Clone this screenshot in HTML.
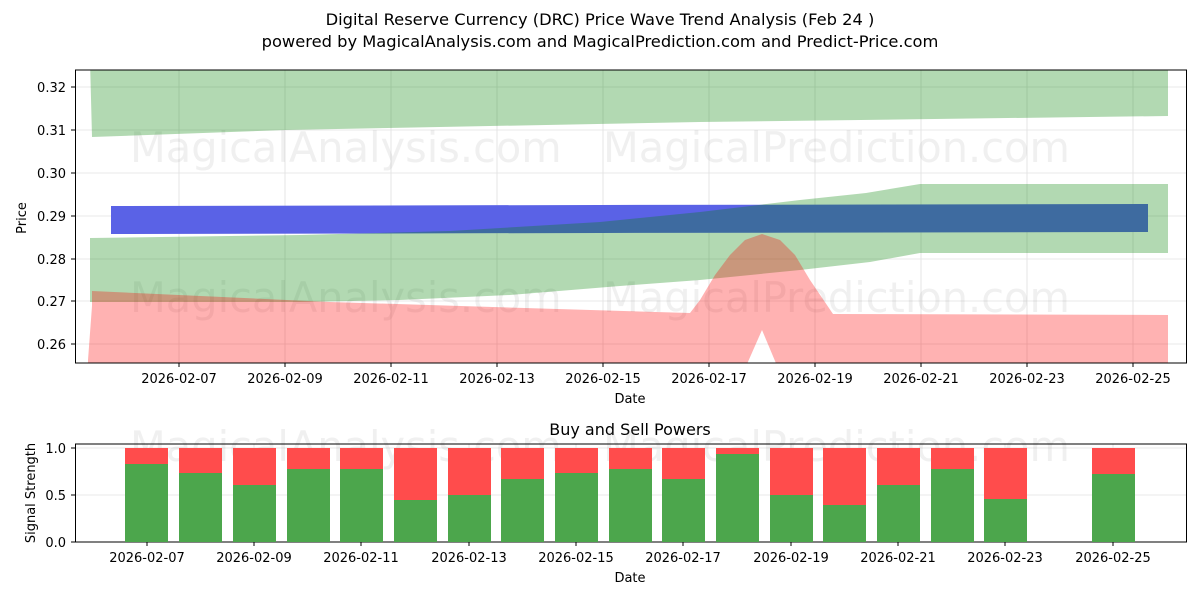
<!DOCTYPE html>
<html><head><meta charset="utf-8"><style>body{margin:0;background:#fff}svg{display:block}text{font-family:"DejaVu Sans","Liberation Sans",sans-serif;fill:#000}</style></head><body>
<svg width="1200" height="600" viewBox="0 0 1200 600" xmlns="http://www.w3.org/2000/svg">
<rect width="1200" height="600" fill="#fff"/>
<text x="600" y="25" font-size="16.3" text-anchor="middle">Digital Reserve Currency (DRC) Price Wave Trend Analysis (Feb 24 )</text>
<text x="600" y="47" font-size="16.3" text-anchor="middle">powered by MagicalAnalysis.com and MagicalPrediction.com and Predict-Price.com</text>
<defs><clipPath id="c1"><rect x="76" y="70" width="1110" height="293"/></clipPath></defs>
<g stroke="#e0e0e0" stroke-width="0.8">
<line x1="179" y1="70" x2="179" y2="363"/><line x1="285" y1="70" x2="285" y2="363"/><line x1="391" y1="70" x2="391" y2="363"/><line x1="497" y1="70" x2="497" y2="363"/><line x1="603" y1="70" x2="603" y2="363"/><line x1="709" y1="70" x2="709" y2="363"/><line x1="815" y1="70" x2="815" y2="363"/><line x1="921" y1="70" x2="921" y2="363"/><line x1="1027" y1="70" x2="1027" y2="363"/><line x1="1133" y1="70" x2="1133" y2="363"/>
<line x1="76" y1="87" x2="1186" y2="87"/><line x1="76" y1="130" x2="1186" y2="130"/><line x1="76" y1="173" x2="1186" y2="173"/><line x1="76" y1="216" x2="1186" y2="216"/><line x1="76" y1="259" x2="1186" y2="259"/><line x1="76" y1="301" x2="1186" y2="301"/><line x1="76" y1="344" x2="1186" y2="344"/>
</g>
<g font-size="41.5">
<text x="130" y="162" style="fill:rgba(128,128,128,0.12)">MagicalAnalysis.com</text>
<text x="603" y="162" style="fill:rgba(128,128,128,0.12)">MagicalPrediction.com</text>
<text x="130" y="312" style="fill:rgba(128,128,128,0.12)">MagicalAnalysis.com</text>
<text x="603" y="312" style="fill:rgba(128,128,128,0.12)">MagicalPrediction.com</text>
</g>
<g clip-path="url(#c1)">
<polygon points="111,206 600,205 1148,204 1148,232 600,233 111,234" fill="#5a62e6"/>
<polygon points="90,60 1168,60 1168,116 700,122 285,130 92,137" fill="rgb(0,128,0)" fill-opacity="0.3"/>
<polygon points="90,238 300,235 450,231 600,222 700,212 800,200 866,193 920,184 1168,184 1168,253 920,253 870,262 800,270 700,280 620,286 510,295 400,300 300,302 90,302" fill="rgb(0,128,0)" fill-opacity="0.3"/>
<polygon points="92,291 330,302 690,313 700,300 715,275 730,255 745,240 762,234 780,240 795,255 810,280 833,314 1168,315 1168,380 783,380 762,330 740,380 88,380 88,360 92,306" fill="rgb(255,0,0)" fill-opacity="0.3"/>
</g>
<rect x="75.5" y="70" width="1111" height="293" fill="none" stroke="#000" stroke-width="1"/>
<g font-size="13" text-anchor="end">
<text x="66" y="92">0.32</text><text x="66" y="135">0.31</text><text x="66" y="178">0.30</text><text x="66" y="221">0.29</text><text x="66" y="264">0.28</text><text x="66" y="306">0.27</text><text x="66" y="349">0.26</text>
</g>
<g stroke="#000"><line x1="71" y1="87" x2="75" y2="87"/><line x1="71" y1="130" x2="75" y2="130"/><line x1="71" y1="173" x2="75" y2="173"/><line x1="71" y1="216" x2="75" y2="216"/><line x1="71" y1="259" x2="75" y2="259"/><line x1="71" y1="301" x2="75" y2="301"/><line x1="71" y1="344" x2="75" y2="344"/>
<line x1="179" y1="363" x2="179" y2="367"/><line x1="285" y1="363" x2="285" y2="367"/><line x1="391" y1="363" x2="391" y2="367"/><line x1="497" y1="363" x2="497" y2="367"/><line x1="603" y1="363" x2="603" y2="367"/><line x1="709" y1="363" x2="709" y2="367"/><line x1="815" y1="363" x2="815" y2="367"/><line x1="921" y1="363" x2="921" y2="367"/><line x1="1027" y1="363" x2="1027" y2="367"/><line x1="1133" y1="363" x2="1133" y2="367"/></g>
<g font-size="13" text-anchor="middle">
<text x="179" y="383">2026-02-07</text><text x="285" y="383">2026-02-09</text><text x="391" y="383">2026-02-11</text><text x="497" y="383">2026-02-13</text><text x="603" y="383">2026-02-15</text><text x="709" y="383">2026-02-17</text><text x="815" y="383">2026-02-19</text><text x="921" y="383">2026-02-21</text><text x="1027" y="383">2026-02-23</text><text x="1133" y="383">2026-02-25</text>
<text x="630" y="403">Date</text>
<text x="630" y="435" font-size="16">Buy and Sell Powers</text>
<text x="630" y="582">Date</text>
</g>
<text transform="translate(26,218) rotate(-90)" font-size="13" text-anchor="middle">Price</text>
<text transform="translate(35,493) rotate(-90)" font-size="13" text-anchor="middle">Signal Strength</text>
<g stroke="#e0e0e0" stroke-width="0.8">
<line x1="76" y1="448" x2="1186" y2="448"/><line x1="76" y1="495" x2="1186" y2="495"/>
<line x1="147" y1="444" x2="147" y2="542"/><line x1="254" y1="444" x2="254" y2="542"/><line x1="361" y1="444" x2="361" y2="542"/><line x1="469" y1="444" x2="469" y2="542"/><line x1="576" y1="444" x2="576" y2="542"/><line x1="683" y1="444" x2="683" y2="542"/><line x1="791" y1="444" x2="791" y2="542"/><line x1="898" y1="444" x2="898" y2="542"/><line x1="1005" y1="444" x2="1005" y2="542"/><line x1="1113" y1="444" x2="1113" y2="542"/>
</g>
<text x="130" y="461" font-size="41.5" style="fill:rgba(128,128,128,0.12)">MagicalAnalysis.com</text>
<text x="603" y="461" font-size="41.5" style="fill:rgba(128,128,128,0.12)">MagicalPrediction.com</text>
<rect x="75.5" y="444" width="1111" height="98" fill="none" stroke="#000" stroke-width="1"/>
<g stroke="#000"><line x1="71" y1="448" x2="75" y2="448"/><line x1="71" y1="495" x2="75" y2="495"/><line x1="71" y1="542" x2="75" y2="542"/>
<line x1="147" y1="542" x2="147" y2="546"/><line x1="254" y1="542" x2="254" y2="546"/><line x1="361" y1="542" x2="361" y2="546"/><line x1="469" y1="542" x2="469" y2="546"/><line x1="576" y1="542" x2="576" y2="546"/><line x1="683" y1="542" x2="683" y2="546"/><line x1="791" y1="542" x2="791" y2="546"/><line x1="898" y1="542" x2="898" y2="546"/><line x1="1005" y1="542" x2="1005" y2="546"/><line x1="1113" y1="542" x2="1113" y2="546"/></g>
<g font-size="13" text-anchor="end"><text x="66" y="453">1.0</text><text x="66" y="500">0.5</text><text x="66" y="547">0.0</text></g>
<g font-size="13" text-anchor="middle">
<text x="147" y="562">2026-02-07</text><text x="254" y="562">2026-02-09</text><text x="361" y="562">2026-02-11</text><text x="469" y="562">2026-02-13</text><text x="576" y="562">2026-02-15</text><text x="683" y="562">2026-02-17</text><text x="791" y="562">2026-02-19</text><text x="898" y="562">2026-02-21</text><text x="1005" y="562">2026-02-23</text><text x="1113" y="562">2026-02-25</text>
</g>
<g>
<rect x="125" y="448" width="43" height="94" fill="#ff4c4c"/><rect x="125" y="464" width="43" height="78" fill="#4ca64c"/>
<rect x="179" y="448" width="43" height="94" fill="#ff4c4c"/><rect x="179" y="473" width="43" height="69" fill="#4ca64c"/>
<rect x="233" y="448" width="43" height="94" fill="#ff4c4c"/><rect x="233" y="485" width="43" height="57" fill="#4ca64c"/>
<rect x="287" y="448" width="43" height="94" fill="#ff4c4c"/><rect x="287" y="469" width="43" height="73" fill="#4ca64c"/>
<rect x="340" y="448" width="43" height="94" fill="#ff4c4c"/><rect x="340" y="469" width="43" height="73" fill="#4ca64c"/>
<rect x="394" y="448" width="43" height="94" fill="#ff4c4c"/><rect x="394" y="500" width="43" height="42" fill="#4ca64c"/>
<rect x="448" y="448" width="43" height="94" fill="#ff4c4c"/><rect x="448" y="495" width="43" height="47" fill="#4ca64c"/>
<rect x="501" y="448" width="43" height="94" fill="#ff4c4c"/><rect x="501" y="479" width="43" height="63" fill="#4ca64c"/>
<rect x="555" y="448" width="43" height="94" fill="#ff4c4c"/><rect x="555" y="473" width="43" height="69" fill="#4ca64c"/>
<rect x="609" y="448" width="43" height="94" fill="#ff4c4c"/><rect x="609" y="469" width="43" height="73" fill="#4ca64c"/>
<rect x="662" y="448" width="43" height="94" fill="#ff4c4c"/><rect x="662" y="479" width="43" height="63" fill="#4ca64c"/>
<rect x="716" y="448" width="43" height="94" fill="#ff4c4c"/><rect x="716" y="454" width="43" height="88" fill="#4ca64c"/>
<rect x="770" y="448" width="43" height="94" fill="#ff4c4c"/><rect x="770" y="495" width="43" height="47" fill="#4ca64c"/>
<rect x="823" y="448" width="43" height="94" fill="#ff4c4c"/><rect x="823" y="505" width="43" height="37" fill="#4ca64c"/>
<rect x="877" y="448" width="43" height="94" fill="#ff4c4c"/><rect x="877" y="485" width="43" height="57" fill="#4ca64c"/>
<rect x="931" y="448" width="43" height="94" fill="#ff4c4c"/><rect x="931" y="469" width="43" height="73" fill="#4ca64c"/>
<rect x="984" y="448" width="43" height="94" fill="#ff4c4c"/><rect x="984" y="499" width="43" height="43" fill="#4ca64c"/>
<rect x="1092" y="448" width="43" height="94" fill="#ff4c4c"/><rect x="1092" y="474" width="43" height="68" fill="#4ca64c"/>
</g>
</svg>
</body></html>
